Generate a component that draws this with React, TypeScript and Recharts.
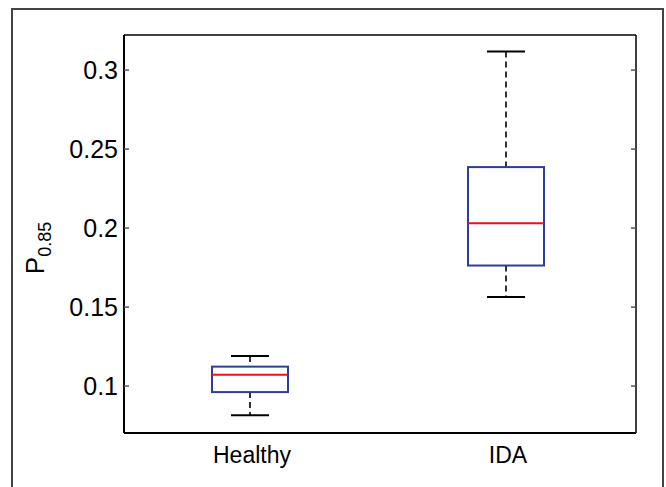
import React from "react";
import { ComposedChart, Bar, XAxis, YAxis, CartesianGrid } from "recharts";

const groups = ["Healthy", "IDA"];
const lowerWhisker = [0.0816, 0.1563];
const lowerQuartile = [0.0962, 0.1763];
const medians = [0.1072, 0.203];
const upperQuartile = [0.1123, 0.2386];
const upperWhisker = [0.1191, 0.3117];
const yTicks = [0.1, 0.15, 0.2, 0.25, 0.3];
const yDomain = [0.0703, 0.3222];

const data = groups.map((name, i) => ({
  name,
  min: lowerWhisker[i],
  q1: lowerQuartile[i],
  median: medians[i],
  q3: upperQuartile[i],
  max: upperWhisker[i],
}));

const FONT = "'Liberation Sans', Arial, sans-serif";
const BOX_BLUE = "#2f3d9c";
const MEDIAN_RED = "#ee1111";

// range bar [min, max] gives the pixel span; the rest is placed from it
function BoxShape(props: any) {
  const { x, y, width, height, payload } = props;
  const top = Math.min(y, y + height);
  const span = Math.abs(height);
  const k = span / (payload.max - payload.min);
  const toY = (v: number) => top + (payload.max - v) * k;
  const cx = x + width / 2;
  const capHalf = width / 4;

  const yMax = toY(payload.max);
  const yQ3 = toY(payload.q3);
  const yMed = toY(payload.median);
  const yQ1 = toY(payload.q1);
  const yMin = toY(payload.min);

  return (
    <g>
      <line x1={cx} x2={cx} y1={yMax} y2={yQ3} stroke="#000" strokeWidth={1.6} strokeDasharray="6 4" />
      <line x1={cx} x2={cx} y1={yQ1} y2={yMin} stroke="#000" strokeWidth={1.6} strokeDasharray="6 4" />
      <line x1={cx - capHalf} x2={cx + capHalf} y1={yMax} y2={yMax} stroke="#000" strokeWidth={2} />
      <line x1={cx - capHalf} x2={cx + capHalf} y1={yMin} y2={yMin} stroke="#000" strokeWidth={2} />
      <rect x={x} y={yQ3} width={width} height={yQ1 - yQ3} fill="#fff" stroke={BOX_BLUE} strokeWidth={2} />
      <line x1={x} x2={x + width} y1={yMed} y2={yMed} stroke={MEDIAN_RED} strokeWidth={2} />
    </g>
  );
}

function YLabel(props: any) {
  const { viewBox } = props;
  const bx = viewBox.x + 44;
  const by = viewBox.y + viewBox.height / 2 + 14;
  return (
    <text
      x={bx}
      y={by}
      transform={`rotate(-90, ${bx}, ${by})`}
      textAnchor="middle"
      fontFamily={FONT}
      fontSize={26}
      fill="#000"
    >
      P
      <tspan fontSize={18} dy={7}>
        0.85
      </tspan>
    </text>
  );
}

export default function App() {
  return (
    <div
      style={{
        position: "fixed",
        left: 0,
        top: 0,
        width: 666,
        height: 487,
        background: "#fff",
        overflow: "hidden",
      }}
    >
      <div
        style={{
          position: "absolute",
          left: 11,
          top: 8,
          width: 649,
          height: 500,
          border: "2px solid #444",
          borderBottom: "none",
        }}
      />
      <div style={{ position: "absolute", left: 0, top: 0 }}>
        <ComposedChart
          width={666}
          height={487}
          data={data}
          margin={{ top: 35, right: 29, bottom: 0, left: 0 }}
        >
          <CartesianGrid
            stroke="#000"
            strokeWidth={1.5}
            horizontalCoordinatesGenerator={({ offset }: any) => [offset.top]}
            verticalCoordinatesGenerator={({ offset }: any) => [offset.left + offset.width]}
          />
          <XAxis
            dataKey="name"
            type="category"
            height={54}
            tickLine={false}
            tickSize={0}
            tickMargin={14}
            axisLine={{ stroke: "#000", strokeWidth: 2 }}
            tick={{ fill: "#000", fontSize: 23, fontFamily: FONT }}
          />
          <YAxis
            type="number"
            domain={yDomain}
            ticks={yTicks}
            allowDataOverflow
            width={124}
            tickSize={-5}
            tickMargin={11}
            axisLine={{ stroke: "#000", strokeWidth: 2 }}
            tickLine={{ stroke: "#555", strokeWidth: 1.5 }}
            tick={{ fill: "#000", fontSize: 25, fontFamily: FONT }}
            label={{ content: <YLabel /> }}
          />
          <YAxis
            yAxisId="right"
            orientation="right"
            type="number"
            domain={yDomain}
            ticks={yTicks}
            allowDataOverflow
            width={1}
            tickSize={-5}
            tickFormatter={() => ""}
            axisLine={false}
            tickLine={{ stroke: "#555", strokeWidth: 1.5 }}
          />
          <Bar
            dataKey={(d: any) => [d.min, d.max]}
            barSize={76}
            shape={<BoxShape />}
            isAnimationActive={false}
          />
          <Bar
            yAxisId="right"
            dataKey={(d: any) => [d.min, d.min]}
            barSize={0}
            shape={() => <g />}
            isAnimationActive={false}
          />
        </ComposedChart>
      </div>
    </div>
  );
}
